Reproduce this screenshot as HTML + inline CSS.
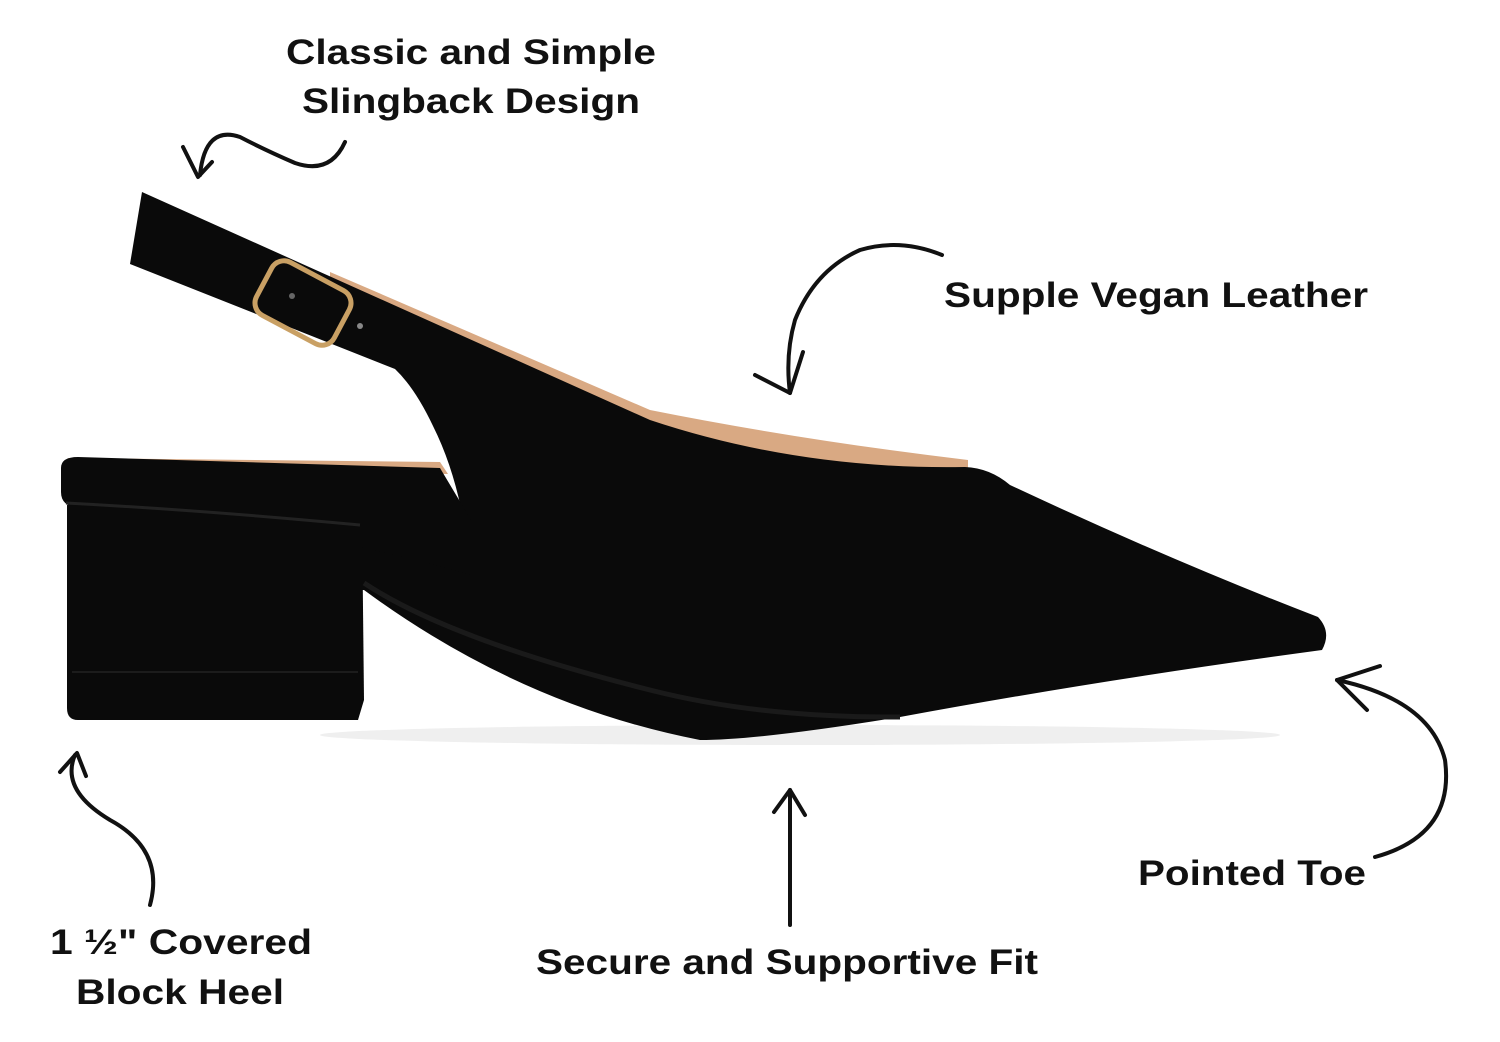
<!DOCTYPE html>
<html><head><meta charset="utf-8"><style>
html,body{margin:0;padding:0;background:#fff;}
svg{display:block;}
text{font-family:"Liberation Sans",sans-serif;font-weight:bold;fill:#111;}
</style></head><body>
<svg width="1500" height="1042" viewBox="0 0 1500 1042" xmlns="http://www.w3.org/2000/svg">
<!-- shadow -->
<ellipse cx="800" cy="735" rx="480" ry="10" fill="#efefef"/>
<!-- tan lining -->
<path d="M330,272 L650,410 Q800,440 968,460 L968,472 Q800,470 650,432 L330,284 Z" fill="#d9a983"/>
<path d="M68,458 L440,462 L448,474 L72,468 Z" fill="#d9a983"/>
<!-- upper + strap -->
<path d="M142,192 L650,420 Q800,470 965,467 Q990,468 1010,485 Q1170,560 1318,617 Q1332,632 1322,650 Q1100,680 900,717 Q760,740 700,740 Q520,705 364,590 L360,590 L360,520 L471,520 L471,583 Q465,490 433,426 Q415,388 395,369 L130,264 Z" fill="#0a0a0a"/>
<!-- heel counter -->
<path d="M61,468 Q61,457 78,457 L440,468 L471,520 L471,575 Q300,525 78,508 Q61,506 61,492 Z" fill="#0a0a0a"/>
<!-- heel block -->
<path d="M67,505 L362,515 L364,700 L358,720 L78,720 Q67,720 67,708 Z" fill="#0a0a0a"/>
<path d="M66,503 Q200,510 360,525" stroke="#222" stroke-width="3" fill="none"/>
<line x1="72" y1="672" x2="358" y2="672" stroke="#1c1c1c" stroke-width="2"/>
<path d="M364,583 Q450,640 650,690 Q760,718 900,717" stroke="#1a1a1a" stroke-width="5" fill="none"/>
<!-- buckle -->
<g transform="translate(303,303) rotate(28)">
<rect x="-44" y="-30" width="88" height="60" rx="14" fill="none" stroke="#c9a064" stroke-width="5"/>
</g>
<circle cx="292" cy="296" r="3" fill="#666"/>
<circle cx="360" cy="326" r="3" fill="#888"/>
<!-- arrows -->
<g stroke="#111" stroke-width="4" fill="none" stroke-linecap="round" stroke-linejoin="round">
<path d="M345,142 Q330,175 295,163 Q265,150 240,137 Q205,125 200,175"/>
<path d="M183,147 L198,177 L212,162"/>
<path d="M942,255 Q900,238 860,250 Q815,270 795,320 Q785,355 790,393"/>
<path d="M755,375 L790,393 L803,352"/>
<path d="M150,905 Q165,850 110,820 Q60,790 75,755"/>
<path d="M60,772 L77,753 L86,776"/>
<path d="M790,925 L790,790"/>
<path d="M774,812 L790,790 L805,815"/>
<path d="M1375,857 Q1455,835 1445,760 Q1430,700 1337,680"/>
<path d="M1380,666 L1337,680 L1367,710"/>
</g>
<!-- labels -->
<text x="471" y="64" font-size="35" text-anchor="middle" textLength="370" lengthAdjust="spacingAndGlyphs">Classic and Simple</text>
<text x="471" y="113" font-size="35" text-anchor="middle" textLength="338" lengthAdjust="spacingAndGlyphs">Slingback Design</text>
<text x="944" y="307" font-size="35" textLength="424" lengthAdjust="spacingAndGlyphs">Supple Vegan Leather</text>
<text x="1138" y="885" font-size="35" textLength="228" lengthAdjust="spacingAndGlyphs">Pointed Toe</text>
<text x="536" y="974" font-size="35" textLength="502" lengthAdjust="spacingAndGlyphs">Secure and Supportive Fit</text>
<text x="50" y="954" font-size="35" textLength="262" lengthAdjust="spacingAndGlyphs">1 ½" Covered</text>
<text x="76" y="1004" font-size="35" textLength="208" lengthAdjust="spacingAndGlyphs">Block Heel</text>
</svg>
</body></html>
